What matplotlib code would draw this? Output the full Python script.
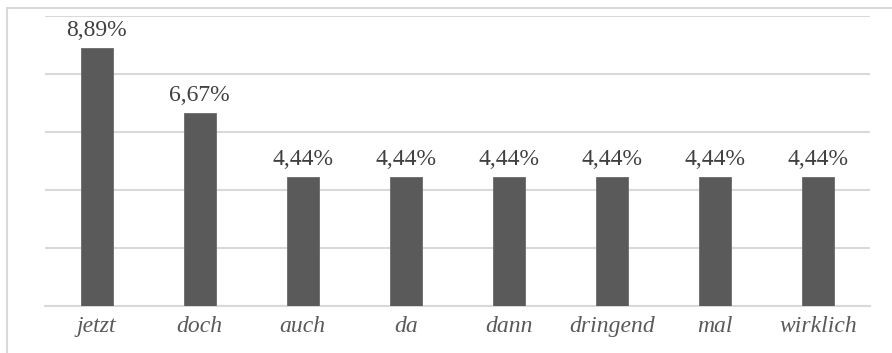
import matplotlib
matplotlib.use("Agg")
import matplotlib.pyplot as plt
from matplotlib.patches import Rectangle

categories = ["jetzt", "doch", "auch", "da", "dann", "dringend", "mal", "wirklich"]
values = [8.89, 6.67, 4.44, 4.44, 4.44, 4.44, 4.44, 4.44]
value_labels = ["8,89%", "6,67%", "4,44%", "4,44%", "4,44%", "4,44%", "4,44%", "4,44%"]

plt.rcParams["font.family"] = "serif"
plt.rcParams["font.serif"] = ["Liberation Serif", "DejaVu Serif"]

W, H = 892, 353
fig = plt.figure(figsize=(W / 100, H / 100), dpi=100)
fig.patch.set_facecolor("white")

# outer chart frame (left and top edges visible)
fig.patches.append(Rectangle((7 / W, -0.1), 1.2, (H - 8) / H + 0.1,
                             transform=fig.transFigure, fill=False,
                             edgecolor="#d9d9d9", linewidth=1.5))

ax = fig.add_axes([45 / W, (H - 306) / H, 825 / W, 290 / H])
x = list(range(len(categories)))
ax.bar(x, values, width=0.31, color="#5a5a5a", edgecolor="#6a6a6a",
       linewidth=0.6, zorder=3)
ax.set_xlim(-0.5, len(categories) - 0.5)
ax.set_ylim(0, 10)
ax.set_yticks([0, 2, 4, 6, 8, 10])
ax.yaxis.grid(True, color="#d9d9d9", linewidth=1.5, zorder=0)
ax.tick_params(axis="y", left=False, labelleft=False)
ax.tick_params(axis="x", length=0, pad=7)
ax.set_xticks(x)
ax.set_xticklabels(categories, fontstyle="italic", fontsize=17, color="#595959")
for s in ("top", "right", "left"):
    ax.spines[s].set_visible(False)
ax.spines["bottom"].set_color("#d9d9d9")
ax.spines["bottom"].set_linewidth(1.5)

for xi, v, lab in zip(x, values, value_labels):
    ax.annotate(lab, (xi, v), xytext=(0, 5), textcoords="offset points",
                ha="center", va="bottom", fontsize=17, color="#404040")

fig.savefig("out.png", dpi=100)
